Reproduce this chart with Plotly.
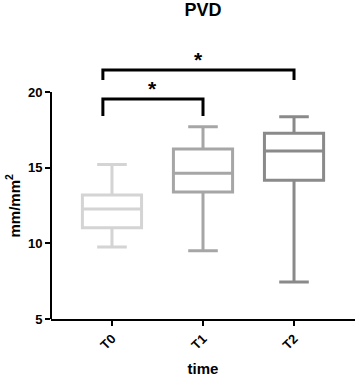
import plotly.graph_objects as go

categories = ["T0", "T1", "T2"]
lower_whisker = [9.76, 9.51, 7.44]
q1_vals = [11.03, 13.39, 14.16]
median_vals = [12.27, 14.63, 16.10]
q3_vals = [13.20, 16.23, 17.27]
upper_whisker = [15.20, 17.70, 18.37]
box_colors = ["#d4d4d4", "#a6a6a6", "#8a8a8a"]

y_ticks = [5, 10, 15, 20]

# significance brackets: (from category, to category, bracket height, leg bottom, label)
brackets = [
    ("T0", "T1", 19.54, 18.41, "*"),
    ("T0", "T2", 21.45, 20.79, "*"),
]

FONT = "Liberation Sans, Arial, sans-serif"

fig = go.Figure()
for i, cat in enumerate(categories):
    fig.add_trace(go.Box(
        x=[i], name=cat,
        q1=[q1_vals[i]], median=[median_vals[i]], q3=[q3_vals[i]],
        lowerfence=[lower_whisker[i]], upperfence=[upper_whisker[i]],
        fillcolor="white",
        line=dict(color=box_colors[i], width=3),
        width=0.65, whiskerwidth=0.5,
        boxpoints=False, showlegend=False, hoverinfo="skip",
    ))

idx = {c: i for i, c in enumerate(categories)}
for a, b, h, leg, label in brackets:
    xa = idx[a] - 0.1
    xb = idx[b]
    fig.add_trace(go.Scatter(
        x=[xa, xa, xb, xb], y=[leg, h, h, leg], mode="lines",
        line=dict(color="black", width=3), showlegend=False, hoverinfo="skip",
    ))
    fig.add_annotation(x=(xa + xb) / 2, y=h, text="<b>" + label + "</b>",
                       showarrow=False, yanchor="bottom", yshift=-3,
                       font=dict(size=21, color="black", family=FONT))

# y-axis line only spanning 5..20
fig.add_shape(type="line", xref="paper", yref="y", x0=0, x1=0,
              y0=y_ticks[0], y1=y_ticks[-1], line=dict(color="black", width=2))

# y-axis title centred on the drawn axis segment
fig.add_annotation(xref="paper", yref="y", x=-0.125, y=(y_ticks[0] + y_ticks[-1]) / 2,
                   text="<b>mm/mm<sup>2</sup></b>", textangle=-90, showarrow=False,
                   xanchor="center", yanchor="middle",
                   font=dict(size=15, color="black", family=FONT))

fig.update_layout(
    width=358, height=378,
    margin=dict(l=51, r=3, t=39, b=59),
    plot_bgcolor="white", paper_bgcolor="white",
    boxmode="overlay",
    title=dict(text="<b>PVD</b>", x=203 / 358, xanchor="center", y=0.99, yanchor="top",
               font=dict(size=18, color="black", family=FONT)),
    xaxis=dict(
        type="linear", range=[-0.67, 2.67],
        tickvals=[0, 1, 2], ticktext=["<b>" + c + "</b>" for c in categories],
        tickangle=-45, ticks="outside", ticklen=5, tickwidth=2, tickcolor="black",
        showline=True, linecolor="black", linewidth=2, showgrid=False, zeroline=False,
        tickfont=dict(size=13, color="black", family=FONT),
        title=dict(text="<b>time</b>", font=dict(size=15, color="black", family=FONT), standoff=12),
    ),
    yaxis=dict(
        range=[5, 23.5], tickvals=y_ticks, ticktext=["<b>%d</b>" % t for t in y_ticks],
        ticks="outside", ticklen=5, tickwidth=2, tickcolor="black",
        showline=False, showgrid=False, zeroline=False,
        tickfont=dict(size=13, color="black", family=FONT),
    ),
)

fig.write_html("out.html", config={"displayModeBar": False},
               post_script="document.body.style.margin='0';document.body.style.overflow='hidden';")
